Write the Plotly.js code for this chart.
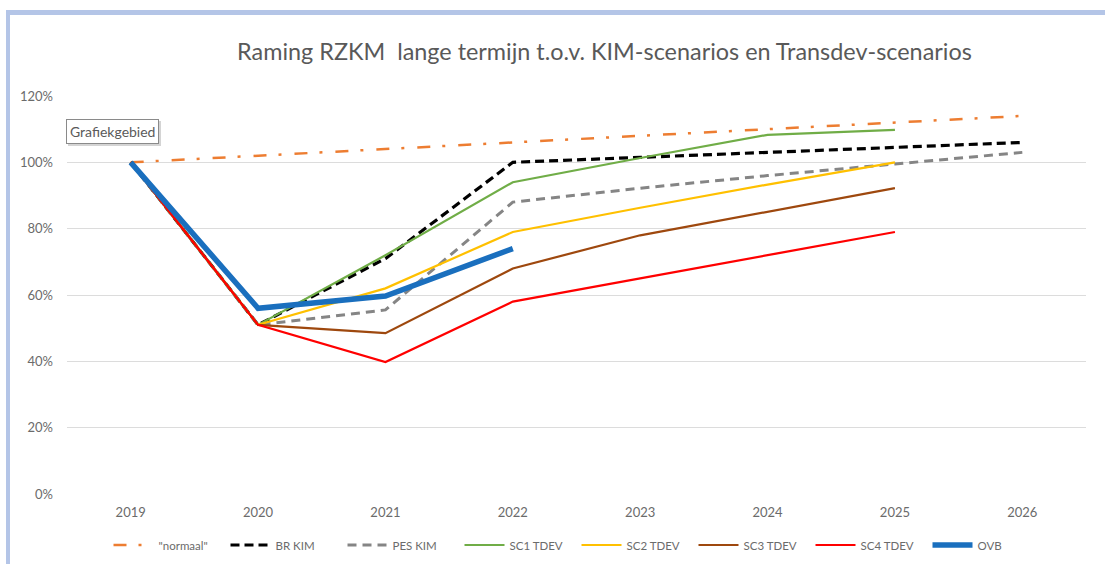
<!DOCTYPE html>
<html>
<head>
<meta charset="utf-8">
<script src="https://cdn.plot.ly/plotly-3.0.1.min.js"></script>
<style>
  html, body { margin: 0; padding: 0; background: #ffffff; overflow: hidden; }
  #chart { position: absolute; left: 0; top: 0; width: 1105px; height: 564px; }
  #frame { position: absolute; left: 6px; top: 10px; width: 1200px; height: 700px;
           border-top: 5px solid #b4c5e7; border-left: 4px solid #b4c5e7; pointer-events: none; }
</style>
</head>
<body>
<div id="chart"></div>
<div id="frame"></div>
<script>
const years = ["2019", "2020", "2021", "2022", "2023", "2024", "2025", "2026"];
const yTicks = [0, 20, 40, 60, 80, 100, 120];

const normaal = [100, 102, 104, 106, 108, 110, 112, 114];
const brKim   = [100, 51, 71, 100, 101.5, 103, 104.5, 106];
const pesKim  = [100, 51, 55.5, 88, 92.2, 96, 99.5, 103];
const sc1     = [100, 51, 72, 94, 101.3, 108.3, 109.8];
const sc2     = [100, 51, 62, 79, 86.3, 93.3, 100];
const sc3     = [100, 51, 48.5, 68, 78, 85.2, 92.2];
const sc4     = [100, 51, 39.8, 58, 65, 72, 79];
const ovb     = [100, 56, 59.7, 74];

const names = ["\"normaal\"", "BR KIM", "PES KIM", "SC1 TDEV", "SC2 TDEV", "SC3 TDEV", "SC4 TDEV", "OVB"];

function tr(name, vals, color, width, dash) {
  return {
    type: "scatter", mode: "lines", name: name,
    x: years.slice(0, vals.length), y: vals,
    line: { color: color, width: width, dash: dash || "solid" },
    hoverinfo: "skip"
  };
}

const data = [
  tr(names[0], normaal, "#ed7d31", 2.5, "13px,12px,3px,13px"),
  tr(names[1], brKim, "#000000", 3.2, "9px,5px"),
  tr(names[2], pesKim, "#858585", 3, "9px,6px"),
  tr(names[3], sc1, "#70ad47", 2.2),
  tr(names[4], sc2, "#ffc000", 2.2),
  tr(names[5], sc3, "#9e480e", 2.2),
  tr(names[6], sc4, "#ff0000", 2.2),
  tr(names[7], ovb, "#1a6fbe", 5.5)
];

const FONT = "Lato, 'Open Sans', sans-serif";
const tickFont = { family: FONT, size: 13, color: "#6b6b6b" };

const layout = {
  width: 1105, height: 564,
  margin: { l: 67, r: 19, t: 96, b: 70 },
  paper_bgcolor: "rgba(0,0,0,0)",
  plot_bgcolor: "rgba(0,0,0,0)",
  title: {
    text: "Raming RZKM  lange termijn t.o.v. KIM-scenarios en Transdev-scenarios",
    font: { family: FONT, size: 23.4, color: "#595959" },
    xref: "container", x: 0.547, xanchor: "center",
    yref: "container", y: 1 - 52 / 564, yanchor: "middle"
  },
  xaxis: {
    type: "category", categoryorder: "array", categoryarray: years,
    range: [-0.5, 7.5], showgrid: false, zeroline: false, showline: false,
    ticks: "", tickfont: tickFont, ticklabelstandoff: 9, fixedrange: true,
    automargin: false
  },
  yaxis: {
    range: [0, 120], tickvals: yTicks, ticktext: yTicks.map(v => v + "%"),
    showgrid: true, gridcolor: "#dcdcdc", gridwidth: 1,
    zeroline: false, showline: false, ticks: "", tickfont: tickFont,
    ticklabelstandoff: 13, fixedrange: true, automargin: false
  },
  showlegend: true,
  legend: {
    orientation: "h", xref: "paper", x: 0.5, xanchor: "center",
    yref: "container", y: 1 - 545 / 564, yanchor: "middle",
    font: { family: FONT, size: 11.5, color: "#6b6b6b" },
    entrywidth: 62, entrywidthmode: "pixels", itemwidth: 40,
    bgcolor: "rgba(0,0,0,0)"
  },
  annotations: [
    {
      xref: "paper", yref: "paper", x: (112 - 67) / 1019, y: 1 - (132 - 96) / 398,
      xanchor: "center", yanchor: "middle",
      text: "Grafiekgebied", showarrow: false,
      font: { family: FONT, size: 14, color: "rgba(0,0,0,0)" },
      bgcolor: "#d4d4d4", borderpad: 3, borderwidth: 1, bordercolor: "#d4d4d4",
      xshift: 2, yshift: -2
    },
    {
      xref: "paper", yref: "paper", x: (112 - 67) / 1019, y: 1 - (132 - 96) / 398,
      xanchor: "center", yanchor: "middle",
      text: "Grafiekgebied", showarrow: false,
      font: { family: FONT, size: 14, color: "#5a5a5a" },
      bgcolor: "#ffffff", borderpad: 3, borderwidth: 1, bordercolor: "#8a8a8a"
    }
  ]
};

Plotly.newPlot("chart", data, layout, { displayModeBar: false, staticPlot: true });
</script>
</body>
</html>
